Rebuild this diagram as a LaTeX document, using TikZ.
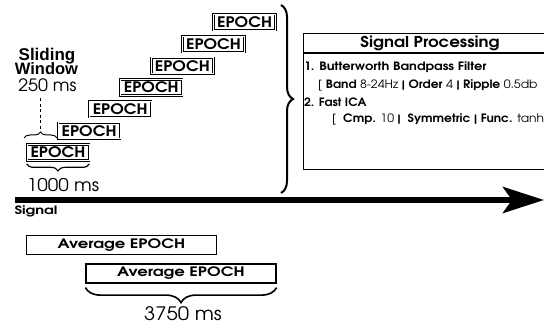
\documentclass[tikz,border=0pt]{standalone}
\usepackage{fontspec}
\usepackage{graphicx}
\setmainfont{TeX Gyre Adventor}
\newfontfamily\hfont{Liberation Sans}
\usetikzlibrary{decorations.pathreplacing,arrows.meta}
\newcommand\myfs[1]{\fontsize{#1}{#1}\selectfont}
\newcommand\myxw[2]{\scalebox{#1}[1]{#2}}
\tikzset{
  epoch/.style={draw, double, line width=0.7pt, double distance=0.9pt,
    minimum width=62pt, minimum height=16pt, inner sep=0pt,
    font=\myfs{14.5}\bfseries},
  avgbox/.style={draw, line width=1.2pt, minimum width=190pt,
    minimum height=19pt, inner sep=0pt, font=\myfs{13}\bfseries},
  brc/.style={decorate, line width=1.4pt},
  lbl/.style={inner sep=0pt, anchor=base},
  sptxt/.style={inner sep=0pt, anchor=base west, font=\myfs{11.5}},
}
\begin{document}
\begin{tikzpicture}[x=1pt,y=-1pt]
\useasboundingbox (0,0) rectangle (544,331);
% EPOCH stair
\foreach \i in {0,...,6}
  \node[epoch] (e\i) at ({58+31.1*\i},{152.5-21.7*\i}) {\myxw{1.12}{EPOCH}};
% Sliding window labels
\node[lbl, font=\hfont\bfseries\myfs{17}] (sl) at (47,61) {Sliding};
\node[lbl, font=\hfont\bfseries\myfs{16.5}] (wi) at (46.5,74.5) {Window};
\node[lbl, font=\myfs{17}] (t250) at (47.5,92) {\myxw{1.05}{250 ms}};
% small brace above first epoch
\coordinate (sbl) at (24,138);
\coordinate (sbr) at (57,138);
\draw[brc, line width=1pt, decoration={brace, amplitude=6pt}] (sbl) -- (sbr);
\coordinate (sbt) at (40.5,131);
\draw[dashed, line width=1.2pt, dash pattern=on 3pt off 2.5pt] (t250.south -| sbt) ++(0,6) -- (sbt);
% brace under first epoch
\draw[brc, line width=1.2pt, decoration={brace, amplitude=7pt}] ([yshift=-3pt]e0.south east) -- ([yshift=-3pt]e0.south west);
\node[lbl, font=\myfs{17.5}] (t1000) at (63,192) {\myxw{1.08}{1000 ms}};
% big brace
\coordinate (bbt) at (281,5);
\coordinate (bbb) at (281,193);
\draw[brc, line width=2pt, decoration={brace, amplitude=12pt}] (bbt) -- (bbb);
% signal processing box
\node[draw, line width=1.3pt, minimum width=260pt, minimum height=136pt,
  anchor=north west, inner sep=0pt] (sp) at (303,33) {};
\draw[line width=1.3pt] ([yshift=-20pt]sp.north west) -- ([yshift=-20pt]sp.north east);
\node[lbl, font=\myfs{15}\bfseries] (spt) at (430,48) {\myxw{1.11}{Signal Processing}};
\node[sptxt] (l1) at (304,71) {\myxw{1.13}{\textbf{1. Butterworth Bandpass Filter}}};
\node[sptxt] (l2) at (318,89) {\myxw{1.07}{[ \textbf{Band} 8-24Hz \textbf{|} \textbf{Order} 4 \textbf{|} \textbf{Ripple} 0.5db}};
\node[sptxt] (l3) at (304,107) {\myxw{1.05}{\textbf{2. Fast ICA}}};
\node[sptxt] (l4) at (332,123) {\myxw{1.065}{[ \ \textbf{Cmp.} 10 \textbf{|} \ \textbf{Symmetric} \textbf{|} \textbf{Func.} tanh}};
% signal arrow
\coordinate (s0) at (15,200);
\coordinate (s1) at (544,200);
\draw[line width=6pt, -{Stealth[length=41pt, width=26pt, inset=9pt]}] (s0) -- (s1);
\node[lbl, font=\myfs{11.5}\bfseries] (sig) at (36,215) {\myxw{1.28}{Signal}};
% average epochs
\node[avgbox] (a1) at (121.5,245) {\myxw{1.26}{Average EPOCH}};
\node[avgbox] (a2) at (181,273.5) {\myxw{1.26}{Average EPOCH}};
\draw[brc, line width=1.6pt, decoration={brace, amplitude=15pt}] ([yshift=-4pt]a2.south east) -- ([yshift=-4pt]a2.south west);
\node[lbl, font=\myfs{18.5}] (t3750) at (183,321) {\myxw{1.1}{3750 ms}};
\end{tikzpicture}
\end{document}
